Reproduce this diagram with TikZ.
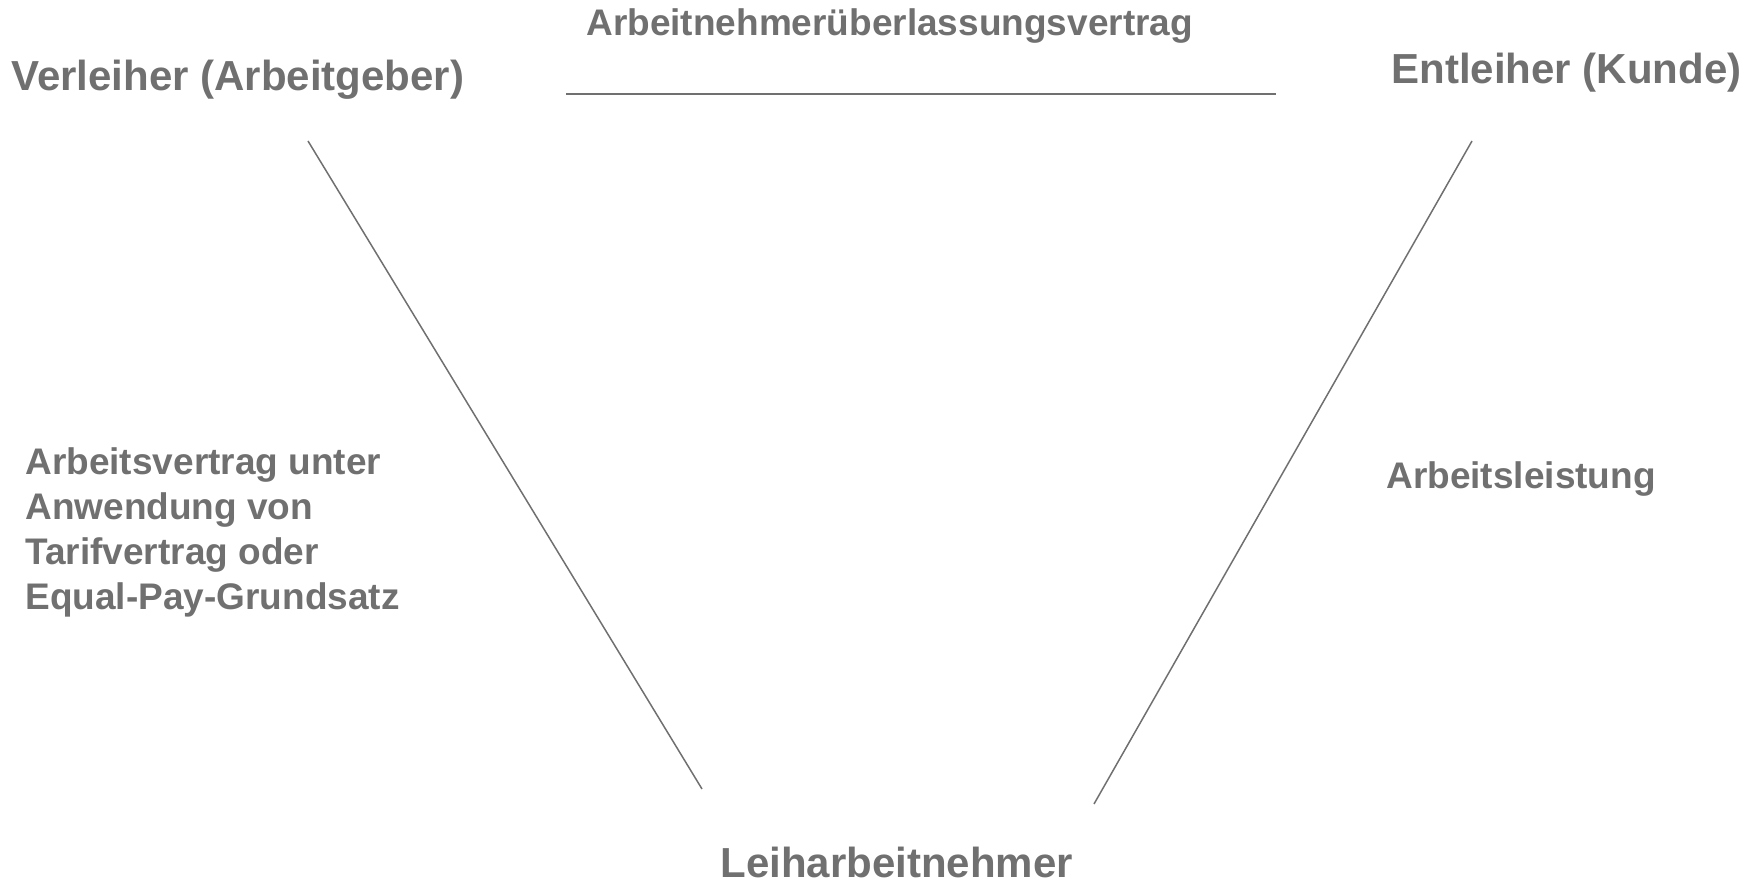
\documentclass[tikz,border=0pt]{standalone}
\usepackage{fontspec}
\setmainfont{Liberation Sans}
\definecolor{rolegrey}{RGB}{112,112,112}
\tikzset{>=latex}
\tikzset{
  role/.style={inner sep=0pt,anchor=base west,text=rolegrey,font=\fontsize{21}{25}\selectfont\bfseries},
  deal/.style={inner sep=0pt,anchor=base west,text=rolegrey,align=left,font=\fontsize{18.5}{22.5}\selectfont\bfseries},
  link/.style={draw=rolegrey,line width=0.75pt}
}

\begin{document}
\begin{tikzpicture}[x=0.5pt,y=0.5pt]
  \useasboundingbox (0,0) rectangle (1763,883);
  % parties
  \node[role] (verleiher) at (11,792) {Verleiher (Arbeitgeber)};
  \node[role] (entleiher) at (1391,799) {Entleiher (Kunde)};
  \node[role] (leiharb) at (720,5) {Leiharbeitnehmer};
  % contracts
  \node[deal] (uebl) at (586,847) {Arbeitnehmerüberlassungsvertrag};
  \node[deal] (avertrag) at (25,273) {Arbeitsvertrag unter\\Anwendung von\\Tarifvertrag oder\\Equal-Pay-Grundsatz};
  \node[deal] (leistung) at (1386,394) {Arbeitsleistung};
  % line ends
  \coordinate (top-l) at (566,789);
  \coordinate (top-r) at (1276,789);
  \coordinate (verl-end) at (308,742);
  \coordinate (verl-leih) at (702,94);
  \coordinate (entl-end) at (1472,742);
  \coordinate (entl-leih) at (1094,79);
  % relations
  \draw[link] (top-l) -- (top-r);
  \draw[link] (verl-end) -- (verl-leih);
  \draw[link] (entl-end) -- (entl-leih);
\end{tikzpicture}
\end{document}
